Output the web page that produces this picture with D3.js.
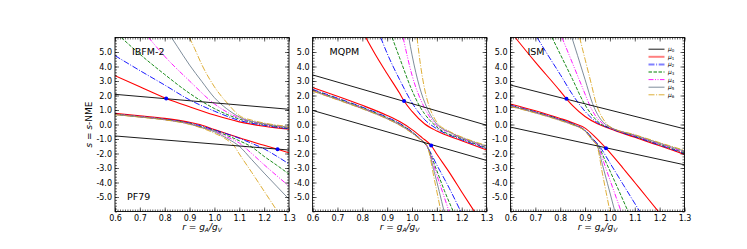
<!DOCTYPE html>
<html>
<head>
<meta charset="utf-8">
<script src="https://cdn.jsdelivr.net/npm/d3@7"></script>
<style>
  body { margin: 0; background: #fff; }
  svg { display: block; font-family: "DejaVu Sans", sans-serif; }
</style>
</head>
<body>
<div id="grafico"></div>
<script>
// ---- datos ----
const paneles = ["IBFM-2", "MQPM", "ISM"];
const rTicks = [0.6, 0.7, 0.8, 0.9, 1.0, 1.1, 1.2, 1.3];
const sTicks = [-5, -4, -3, -2, -1, 0, 1, 2, 3, 4, 5];
const etiquetasMu = ["0", "1", "2", "3", "4", "5", "6"];

// IBFM-2 (PF79)
const ibfmMu0 = [
    [[0.6, 2.08], [1.3, 1.05]],
    [[0.6, -0.79], [1.3, -1.76]]
];
const ibfmUpper = [
    [[0.6, 3.37], [0.7, 2.6], [0.806, 1.8], [0.9, 1.22], [1.0, 0.65], [1.1, 0.18], [1.2, -0.12], [1.3, -0.33]],
    [[0.6, 4.75], [0.7, 3.72], [0.8, 2.72], [0.9, 1.7], [1.0, 0.92], [1.1, 0.28], [1.2, -0.06], [1.3, -0.3]],
    [[0.625, 6.0], [0.7, 4.85], [0.8, 3.45], [0.9, 2.15], [1.0, 1.1], [1.1, 0.38], [1.2, 0.0], [1.3, -0.26]],
    [[0.735, 6.0], [0.8, 4.7], [0.9, 3.0], [1.0, 1.42], [1.1, 0.45], [1.2, 0.03], [1.3, -0.22]],
    [[0.827, 6.0], [0.85, 5.4], [0.9, 4.1], [0.95, 2.95], [1.0, 1.85], [1.05, 1.08], [1.1, 0.52], [1.2, 0.06], [1.3, -0.18]],
    [[0.899, 6.0], [0.92, 5.25], [0.95, 4.1], [1.0, 2.6], [1.055, 1.41], [1.1, 0.62], [1.15, 0.3], [1.2, 0.1], [1.3, -0.14]]
];
const ibfmLower = [
    [[0.6, 0.77], [0.7, 0.6], [0.8, 0.42], [0.9, 0.15], [0.95, -0.05], [1.0, -0.35], [1.1, -0.92], [1.2, -1.43], [1.254, -1.71], [1.3, -1.95]],
    [[0.6, 0.72], [0.7, 0.55], [0.8, 0.37], [0.9, 0.1], [0.95, -0.12], [1.0, -0.38], [1.05, -0.65], [1.1, -0.95], [1.15, -1.3], [1.2, -1.68], [1.25, -2.18], [1.3, -2.72]],
    [[0.6, 0.7], [0.7, 0.53], [0.8, 0.35], [0.9, 0.07], [0.95, -0.18], [1.0, -0.42], [1.05, -0.75], [1.1, -1.12], [1.15, -1.55], [1.2, -2.2], [1.25, -2.8], [1.3, -3.42]],
    [[0.6, 0.7], [0.7, 0.53], [0.8, 0.34], [0.9, 0.05], [0.95, -0.2], [1.0, -0.45], [1.05, -0.85], [1.1, -1.28], [1.15, -2.0], [1.2, -2.78], [1.25, -3.52], [1.3, -4.25]],
    [[0.6, 0.69], [0.7, 0.52], [0.8, 0.33], [0.9, 0.03], [0.95, -0.22], [1.0, -0.5], [1.05, -0.95], [1.1, -1.5], [1.15, -2.42], [1.2, -3.35], [1.25, -4.25], [1.3, -5.15]],
    [[0.6, 0.68], [0.7, 0.51], [0.8, 0.32], [0.9, 0.01], [0.95, -0.25], [1.0, -0.6], [1.05, -1.05], [1.078, -1.45], [1.1, -2.03], [1.15, -3.3], [1.2, -4.6], [1.254, -6.0]]
];
const ibfmPuntos = [[0.806, 1.8], [1.254, -1.71]];

// MQPM
const mqpmMu0 = [
    [[0.6, 3.42], [1.3, -0.05]],
    [[0.6, 0.97], [1.3, -2.48]]
];
const mqpmUpper = [
    [[0.814, 6.0], [0.85, 4.9], [0.9, 3.5], [0.95, 2.15], [0.968, 1.62], [1.0, 0.9], [1.05, 0.05], [1.1, -0.45], [1.2, -1.12], [1.3, -1.76]],
    [[0.874, 6.0], [0.9, 4.9], [0.95, 3.1], [1.0, 1.5], [1.05, 0.35], [1.1, -0.3], [1.2, -1.05], [1.3, -1.66]],
    [[0.92, 6.0], [0.95, 4.6], [1.0, 2.35], [1.03, 1.28], [1.05, 0.75], [1.1, -0.18], [1.2, -0.98], [1.3, -1.6]],
    [[0.964, 6.0], [1.0, 3.4], [1.05, 1.15], [1.1, -0.08], [1.15, -0.55], [1.2, -0.94], [1.3, -1.55]],
    [[0.987, 6.0], [1.0, 4.8], [1.03, 2.6], [1.06, 1.15], [1.1, 0.02], [1.15, -0.52], [1.2, -0.9], [1.3, -1.5]],
    [[1.02, 6.0], [1.035, 4.0], [1.05, 2.5], [1.07, 1.2], [1.085, 0.6], [1.1, 0.15], [1.15, -0.47], [1.2, -0.86], [1.3, -1.45]]
];
const mqpmLower = [
    [[0.6, 2.55], [0.7, 1.95], [0.8, 1.32], [0.9, 0.62], [0.95, 0.2], [1.0, -0.35], [1.04, -0.9], [1.077, -1.45], [1.1, -2.05], [1.15, -3.3], [1.2, -4.65], [1.251, -6.0]],
    [[0.6, 2.42], [0.7, 1.82], [0.8, 1.2], [0.9, 0.5], [0.95, 0.08], [1.0, -0.5], [1.03, -0.95], [1.06, -1.5], [1.1, -2.8], [1.15, -4.4], [1.196, -6.0]],
    [[0.6, 2.38], [0.7, 1.78], [0.8, 1.16], [0.9, 0.46], [0.95, 0.04], [1.0, -0.52], [1.03, -0.95], [1.06, -1.5], [1.1, -3.2], [1.13, -4.55], [1.166, -6.0]],
    [[0.6, 2.35], [0.7, 1.75], [0.8, 1.12], [0.9, 0.42], [0.95, 0.0], [1.0, -0.55], [1.03, -0.97], [1.06, -1.48], [1.1, -3.5], [1.149, -6.0]],
    [[0.6, 2.32], [0.7, 1.72], [0.8, 1.1], [0.9, 0.4], [0.95, -0.03], [1.0, -0.57], [1.03, -0.98], [1.06, -1.46], [1.09, -3.3], [1.129, -6.0]],
    [[0.6, 2.3], [0.7, 1.7], [0.8, 1.08], [0.9, 0.38], [0.95, -0.05], [1.0, -0.6], [1.03, -1.0], [1.06, -1.45], [1.09, -3.8], [1.116, -6.0]]
];
const mqpmPuntos = [[0.968, 1.62], [1.077, -1.45]];

// ISM
const ismMu0 = [
    [[0.6, 2.72], [1.3, -0.3]],
    [[0.6, -0.18], [1.3, -2.78]]
];
const ismUpper = [
    [[0.619, 6.0], [0.7, 4.3], [0.8, 2.3], [0.825, 1.77], [0.85, 1.3], [0.9, 0.55], [0.95, 0.05], [1.0, -0.3], [1.1, -0.88], [1.2, -1.47], [1.3, -2.06]],
    [[0.707, 6.0], [0.75, 4.8], [0.8, 3.45], [0.85, 2.05], [0.9, 0.9], [0.95, 0.12], [1.0, -0.26], [1.1, -0.84], [1.2, -1.42], [1.3, -2.0]],
    [[0.767, 6.0], [0.8, 4.85], [0.85, 3.1], [0.895, 1.5], [0.93, 0.6], [0.96, 0.08], [1.0, -0.22], [1.1, -0.8], [1.2, -1.37], [1.3, -1.95]],
    [[0.807, 6.0], [0.85, 4.2], [0.9, 2.1], [0.915, 1.47], [0.94, 0.65], [0.97, 0.08], [1.0, -0.2], [1.1, -0.77], [1.2, -1.33], [1.3, -1.9]],
    [[0.847, 6.0], [0.87, 4.75], [0.9, 3.1], [0.93, 1.45], [0.95, 0.7], [0.975, 0.12], [1.0, -0.17], [1.1, -0.73], [1.2, -1.29], [1.3, -1.84]],
    [[0.878, 6.0], [0.9, 4.5], [0.925, 2.8], [0.945, 1.42], [0.965, 0.6], [0.985, 0.1], [1.0, -0.15], [1.1, -0.7], [1.2, -1.25], [1.3, -1.78]]
];
const ismLower = [
    [[0.6, 1.42], [0.7, 0.95], [0.8, 0.42], [0.85, 0.12], [0.9, -0.25], [0.94, -0.85], [0.984, -1.63], [1.05, -2.95], [1.1, -4.0], [1.15, -5.05], [1.195, -6.0]],
    [[0.6, 1.33], [0.7, 0.87], [0.8, 0.35], [0.85, 0.05], [0.9, -0.4], [0.93, -0.95], [0.96, -1.55], [1.0, -2.65], [1.05, -4.05], [1.12, -6.0]],
    [[0.6, 1.3], [0.7, 0.85], [0.8, 0.33], [0.85, 0.03], [0.9, -0.42], [0.93, -1.0], [0.955, -1.52], [0.98, -2.45], [1.02, -3.95], [1.073, -6.0]],
    [[0.6, 1.28], [0.7, 0.83], [0.8, 0.31], [0.85, 0.01], [0.9, -0.44], [0.93, -1.05], [0.952, -1.5], [0.98, -2.85], [1.01, -4.3], [1.045, -6.0]],
    [[0.6, 1.26], [0.7, 0.81], [0.8, 0.29], [0.85, -0.01], [0.9, -0.45], [0.93, -1.08], [0.95, -1.5], [0.97, -2.78], [0.99, -4.06], [1.02, -6.0]],
    [[0.6, 1.24], [0.7, 0.79], [0.8, 0.27], [0.85, -0.03], [0.9, -0.46], [0.93, -1.1], [0.948, -1.47], [0.97, -3.4], [0.985, -4.7], [1.0, -6.0]]
];
const ismPuntos = [[0.825, 1.77], [0.984, -1.63]];

const mu0Paneles = [ibfmMu0, mqpmMu0, ismMu0];
const upperPaneles = [ibfmUpper, mqpmUpper, ismUpper];
const lowerPaneles = [ibfmLower, mqpmLower, ismLower];
const puntosPaneles = [ibfmPuntos, mqpmPuntos, ismPuntos];

// ---- estilos ----
const colores = ["#ff0000", "#0000ff", "#008000", "#ff00ff", "#708090", "#daa520"];
const guiones = ["none", "6,1.6,1,1.6", "3.5,1.5", "5,1.5,1,1.5,1,1.5", "none", "6,1.6,1,1.6"];

const width = 747, height = 249;
const izquierdas = [115, 312.6, 510.5];
const anchoPanel = 174;
const arriba = 37.5, abajo = 211.5;

const svg = d3.select("#grafico").append("svg")
    .attr("width", width)
    .attr("height", height);

const y = d3.scaleLinear().domain([-6, 6]).range([abajo, arriba]);

paneles.forEach(function (nombre, p) {
    const x0 = izquierdas[p];
    const x = d3.scaleLinear().domain([0.6, 1.3]).range([x0, x0 + anchoPanel]);
    const g = svg.append("g");

    g.append("clipPath").attr("id", "clip" + p)
        .append("rect")
        .attr("x", x0).attr("y", arriba)
        .attr("width", anchoPanel).attr("height", abajo - arriba);

    const linea = d3.line()
        .x(d => x(d[0]))
        .y(d => y(d[1]))
        .curve(d3.curveMonotoneX);

    const curvas = g.append("g").attr("clip-path", "url(#clip" + p + ")");

    // ramas inferiores y superiores (mu1..mu6)
    [lowerPaneles[p], upperPaneles[p]].forEach(function (familia) {
        familia.forEach(function (datos, i) {
            curvas.append("path")
                .datum(datos)
                .attr("d", linea)
                .attr("fill", "none")
                .attr("stroke", colores[i])
                .attr("stroke-width", i === 0 ? 1.1 : 0.9)
                .attr("stroke-dasharray", guiones[i]);
        });
    });

    // rectas mu0
    mu0Paneles[p].forEach(function (datos) {
        curvas.append("path")
            .datum(datos)
            .attr("d", linea)
            .attr("fill", "none")
            .attr("stroke", "#000")
            .attr("stroke-width", 0.9);
    });

    curvas.selectAll("circle")
        .data(puntosPaneles[p])
        .enter()
        .append("circle")
        .attr("cx", d => x(d[0]))
        .attr("cy", d => y(d[1]))
        .attr("r", 2)
        .attr("fill", "#0000ff");

    // ejes con marcas hacia dentro
    const menoresX = d3.range(60, 131).map(v => v / 100);
    const menoresY = d3.range(-30, 31).map(v => v / 5);

    g.append("g")
        .attr("transform", "translate(0," + abajo + ")")
        .call(d3.axisBottom(x).tickValues(menoresX).tickSize(-2).tickFormat(""));
    g.append("g")
        .attr("transform", "translate(0," + arriba + ")")
        .call(d3.axisTop(x).tickValues(menoresX).tickSize(-2).tickFormat(""));
    g.append("g")
        .attr("transform", "translate(" + x0 + ",0)")
        .call(d3.axisLeft(y).tickValues(menoresY).tickSize(-2).tickFormat(""));
    g.append("g")
        .attr("transform", "translate(" + (x0 + anchoPanel) + ",0)")
        .call(d3.axisRight(y).tickValues(menoresY).tickSize(-2).tickFormat(""));

    g.append("g")
        .attr("class", "ejeX")
        .attr("transform", "translate(0," + abajo + ")")
        .call(d3.axisBottom(x).tickValues(rTicks).tickSize(-4).tickPadding(4)
            .tickFormat(d => d.toFixed(1)));
    g.append("g")
        .attr("transform", "translate(0," + arriba + ")")
        .call(d3.axisTop(x).tickValues(rTicks).tickSize(-4).tickFormat(""));
    g.append("g")
        .attr("class", "ejeY")
        .attr("transform", "translate(" + x0 + ",0)")
        .call(d3.axisLeft(y).tickValues(sTicks).tickSize(-4).tickPadding(3)
            .tickFormat(d => d.toFixed(1)));
    g.append("g")
        .attr("transform", "translate(" + (x0 + anchoPanel) + ",0)")
        .call(d3.axisRight(y).tickValues(sTicks).tickSize(-4).tickFormat(""));

    g.selectAll(".domain").remove();
    g.selectAll(".tick line").attr("stroke", "#000").attr("stroke-width", 0.6);
    g.selectAll(".tick text")
        .attr("fill", "#000")
        .style("font-family", "DejaVu Sans")
        .style("font-size", "8px");

    g.append("rect")
        .attr("x", x0).attr("y", arriba)
        .attr("width", anchoPanel).attr("height", abajo - arriba)
        .attr("fill", "none")
        .attr("stroke", "#000")
        .attr("stroke-width", 0.9);

    // nombre del modelo
    g.append("text")
        .attr("x", x0 + 17)
        .attr("y", 55)
        .style("font-size", "9.5px")
        .text(nombre);

    // etiqueta eje X
    const tx = g.append("text")
        .attr("x", x0 + anchoPanel / 2)
        .attr("y", 230)
        .attr("text-anchor", "middle")
        .style("font-size", "9px");
    tx.append("tspan").style("font-style", "italic").text("r");
    tx.append("tspan").text(" = ");
    tx.append("tspan").style("font-style", "italic").text("g");
    tx.append("tspan").style("font-style", "italic").style("font-size", "6px").attr("dy", 2).text("A");
    tx.append("tspan").style("font-style", "italic").attr("dy", -2).text("/g");
    tx.append("tspan").style("font-style", "italic").style("font-size", "6px").attr("dy", 2).text("V");
});

// PF79 en el primer panel
svg.append("text")
    .attr("x", 127)
    .attr("y", 200)
    .style("font-size", "9.5px")
    .text("PF79");

// etiqueta eje Y
const ty = svg.append("text")
    .attr("transform", "translate(92," + ((arriba + abajo) / 2) + ") rotate(-90)")
    .attr("text-anchor", "middle")
    .style("font-size", "9px");
ty.append("tspan").style("font-style", "italic").text("s");
ty.append("tspan").text(" = ");
ty.append("tspan").style("font-style", "italic").text("s");
ty.append("tspan").text("-NME");

// leyenda
const leyColores = ["#000000", "#ff8080", "#8080ff", "#80c080", "#ff00ff", "#708090", "#daa520"];
const leyAnchos = [0.9, 2, 2, 2, 0.9, 0.9, 0.9];
const leyGuiones = ["none", "none", "6,1.6,1,1.6", "3.5,1.5", "5,1.5,1,1.5,1,1.5", "none", "6,1.6,1,1.6"];
const leyenda = svg.append("g");
etiquetasMu.forEach(function (m, i) {
    const yy = 49.2 + i * 7.6;
    leyenda.append("line")
        .attr("x1", 648.5).attr("x2", 664.5)
        .attr("y1", yy).attr("y2", yy)
        .attr("stroke", leyColores[i])
        .attr("stroke-width", leyAnchos[i])
        .attr("stroke-dasharray", leyGuiones[i]);
    const t = leyenda.append("text")
        .attr("x", 668)
        .attr("y", yy + 2)
        .style("font-size", "6px");
    t.append("tspan").style("font-style", "italic").text("μ");
    t.append("tspan").style("font-size", "4px").attr("dy", 1).text(m);
});
</script>
</body>
</html>
